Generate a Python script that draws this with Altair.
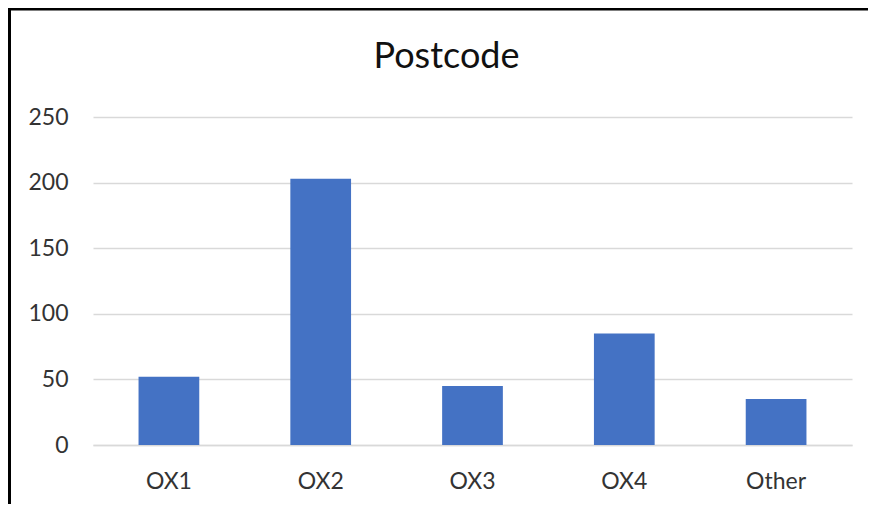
import altair as alt
import pandas as pd

categories = ["OX1", "OX2", "OX3", "OX4", "Other"]
counts = [52, 203, 45, 85, 35]

df = pd.DataFrame({"postcode": categories, "count": counts})
frame = pd.DataFrame({"k": [0]})

FONT = "Lato"

bars = alt.Chart(df).mark_bar(color="#4472C4").encode(
    x=alt.X("postcode:N", sort=categories,
            scale=alt.Scale(paddingInner=0.6, paddingOuter=0.3),
            axis=alt.Axis(title=None, labelAngle=0, labelFontSize=23, labelFont=FONT,
                          labelColor="#333333", labelPadding=25, ticks=False,
                          domainColor="#D9D9D9", domainWidth=1.5, grid=False)),
    y=alt.Y("count:Q", scale=alt.Scale(domain=[0, 250], nice=False),
            axis=alt.Axis(title=None, values=[0, 50, 100, 150, 200, 250],
                          labelFontSize=23, labelFont=FONT, labelColor="#333333",
                          labelPadding=25, ticks=False, domain=False,
                          gridColor="#D9D9D9", gridWidth=1.5)),
)

# black frame lines along the top and left edges of the picture
top_line = alt.Chart(frame).mark_rule(color="black", strokeWidth=3, clip=False).encode(
    x=alt.value(-85), x2=alt.value(775), y=alt.value(-108)
)
left_line = alt.Chart(frame).mark_rule(color="black", strokeWidth=3, clip=False).encode(
    x=alt.value(-83.5), y=alt.value(-109), y2=alt.value(400)
)

chart = alt.layer(bars, top_line, left_line).properties(
    width=759,
    height=328,
    background="white",
    autosize=alt.AutoSizeParams(type="none"),
    padding={"left": 85, "top": 109, "right": 16, "bottom": 59},
    title=alt.TitleParams("Postcode", fontSize=36, font=FONT, fontWeight="normal",
                          color="#111111", anchor="middle", baseline="alphabetic",
                          offset=-97, dx=-26),
).configure_view(strokeWidth=0, stroke="transparent")

chart.save("out.html", embed_options={"renderer": "svg", "actions": False})
